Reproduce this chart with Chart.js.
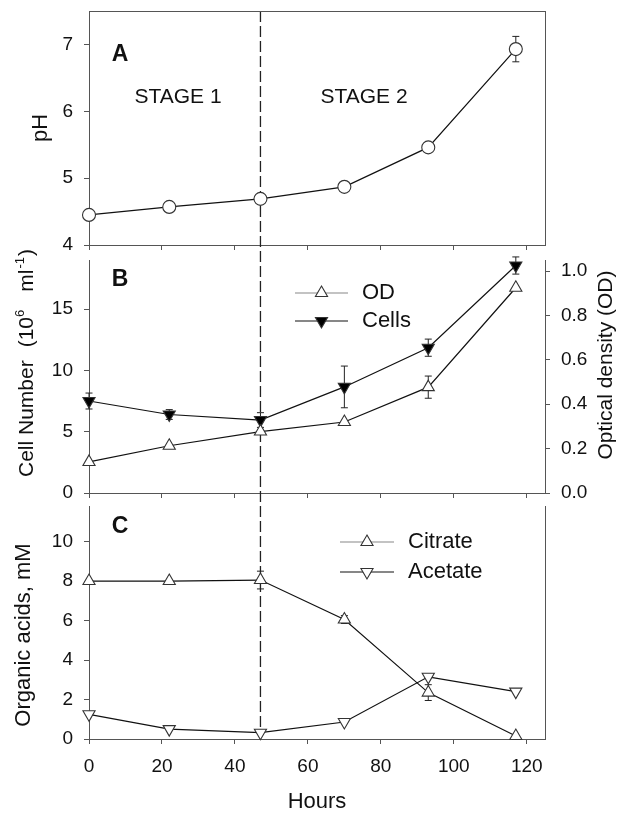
<!DOCTYPE html>
<html>
<head>
<meta charset="utf-8">
<script src="https://cdn.jsdelivr.net/npm/chart.js@4.4.1/dist/chart.umd.min.js"></script>
<style>
  body { margin: 0; background: #fff; }
  #wrap { position: relative; width: 617px; height: 813px; overflow: hidden; }
  canvas { position: absolute; left: 0; }
</style>
</head>
<body>
<div id="wrap">
  <canvas id="chartA" width="617" height="250" style="top:0px"></canvas>
  <canvas id="chartB" width="617" height="300" style="top:200px"></canvas>
  <canvas id="chartC" width="617" height="313" style="top:500px"></canvas>
</div>
<script>
// sampling times (h) and the stage boundary
const hours = [0, 22, 47, 70, 93, 117];
const stageSplit = 47;

// panel A
const pH = [4.45, 4.57, 4.69, 4.87, 5.46, 6.93];
const pHErr = [0, 0, 0, 0, 0, 0.19];

// panel B
const cells = [7.5, 6.4, 5.95, 8.65, 11.85, 18.55];
const cellsErr = [0.65, 0.4, 0.6, 1.7, 0.7, 0.7];
const od = [0.14, 0.213, 0.277, 0.32, 0.477, 0.925];
const odErr = [0, 0, 0, 0, 0.05, 0];

// panel C
const citrate = [8.0, 8.0, 8.05, 6.05, 2.35, 0.15];
const citrateErr = [0, 0, 0.45, 0.2, 0.4, 0];
const acetate = [1.25, 0.5, 0.32, 0.86, 3.15, 2.4];

// tick labels
const hourTicks = [0, 20, 40, 60, 80, 100, 120];
const pHTicks = [4, 5, 6, 7];
const cellTicks = [0, 5, 10, 15];
const odTicks = [0, 0.2, 0.4, 0.6, 0.8, 1.0];
const acidTicks = [0, 2, 4, 6, 8, 10];

const family = "'Liberation Sans', Arial, sans-serif";
const ink = '#111';
const axisColor = '#555';
Chart.defaults.font.family = family;
Chart.defaults.color = ink;

function pts(vals) {
  return hours.map((h, i) => ({ x: h, y: vals[i] }));
}

function setTicks(list) {
  return axis => { axis.ticks = list.map(v => ({ value: v })); };
}

// fixed box sizes so the three panels line up exactly
function fixBox(w, h) {
  return axis => {
    if (w !== null) axis.width = w;
    if (h !== null) axis.height = h;
    axis.paddingTop = 0;
    axis.paddingBottom = 0;
    axis.paddingLeft = 0;
    axis.paddingRight = 0;
  };
}

function xAxis(showLabels, height) {
  return {
    type: 'linear', min: 0, max: 125,
    afterBuildTicks: setTicks(hourTicks),
    afterFit: fixBox(null, height),
    grid: { display: true, drawOnChartArea: false, drawTicks: true, tickLength: 5, color: axisColor },
    border: { color: axisColor },
    ticks: { display: showLabels, font: { size: 19 }, color: ink, padding: 11, maxRotation: 0 },
    title: {
      display: showLabels, text: 'Hours', color: ink,
      font: { size: 22, lineHeight: 1 }, padding: 0
    }
  };
}

function yAxis(min, max, list, pos, fmt) {
  return {
    type: 'linear', position: pos, min: min, max: max,
    afterBuildTicks: setTicks(list),
    afterFit: fixBox(pos === 'left' ? 89 : 72, null),
    grid: { display: true, drawOnChartArea: false, drawTicks: true, tickLength: 5, color: axisColor },
    border: { color: axisColor },
    ticks: { font: { size: 19 }, color: ink, padding: 11, callback: fmt || (v => v) }
  };
}

// plain right-hand frame line for panels A and C
function frameAxis() {
  return {
    type: 'linear', position: 'right', min: 0, max: 1,
    afterFit: fixBox(72, null),
    grid: { display: false },
    border: { color: axisColor },
    ticks: { display: false }
  };
}

function series(vals, style, rot, fill, errs, yID) {
  return {
    data: pts(vals),
    yAxisID: yID || 'y',
    errors: errs,
    borderColor: ink,
    borderWidth: 1.2,
    tension: 0,
    clip: false,
    pointStyle: style,
    pointRotation: rot,
    pointRadius: style === 'circle' ? 6.5 : 7,
    pointBackgroundColor: fill,
    pointBorderColor: '#333',
    pointBorderWidth: 1.1
  };
}

const errorBars = {
  id: 'errorBars',
  beforeDatasetsDraw(chart) {
    const ctx = chart.ctx;
    const xs = chart.scales.x;
    chart.data.datasets.forEach(ds => {
      if (!ds.errors) return;
      const ys = chart.scales[ds.yAxisID];
      ctx.save();
      ctx.strokeStyle = '#222';
      ctx.lineWidth = 1;
      ds.data.forEach((p, j) => {
        const e = ds.errors[j];
        if (!e) return;
        const px = xs.getPixelForValue(p.x);
        const top = ys.getPixelForValue(p.y + e);
        const bot = ys.getPixelForValue(p.y - e);
        ctx.beginPath();
        ctx.moveTo(px, top); ctx.lineTo(px, bot);
        ctx.moveTo(px - 3.5, top); ctx.lineTo(px + 3.5, top);
        ctx.moveTo(px - 3.5, bot); ctx.lineTo(px + 3.5, bot);
        ctx.stroke();
      });
      ctx.restore();
    });
  }
};

// long-dash line at the stage boundary, kept in phase across the three canvases
function stageLine(canvasTop, fromY, toY) {
  return {
    id: 'stageLine',
    beforeDatasetsDraw(chart) {
      const ctx = chart.ctx;
      const px = chart.scales.x.getPixelForValue(stageSplit);
      ctx.save();
      ctx.strokeStyle = '#222';
      ctx.lineWidth = 1.3;
      ctx.setLineDash([11, 4]);
      ctx.lineDashOffset = fromY - 11;
      ctx.beginPath();
      ctx.moveTo(px, fromY - canvasTop);
      ctx.lineTo(px, toY - canvasTop);
      ctx.stroke();
      ctx.restore();
    }
  };
}

function text(ctx, str, x, y, size, opts) {
  opts = opts || {};
  ctx.save();
  ctx.font = (opts.bold ? 'bold ' : '') + size + 'px ' + family;
  ctx.fillStyle = ink;
  ctx.textAlign = opts.align || 'left';
  ctx.textBaseline = 'middle';
  ctx.translate(x, y);
  if (opts.vertical) ctx.rotate(-Math.PI / 2);
  ctx.fillText(str, 0, 0);
  ctx.restore();
}

function legendRow(ctx, x0, x1, y, lineColor, style, rot, fill, label) {
  ctx.save();
  ctx.strokeStyle = lineColor;
  ctx.lineWidth = 1.2;
  ctx.beginPath();
  ctx.moveTo(x0, y); ctx.lineTo(x1, y);
  ctx.stroke();
  ctx.fillStyle = fill;
  ctx.strokeStyle = '#333';
  ctx.lineWidth = 1.1;
  Chart.helpers.drawPoint(ctx, { pointStyle: style, radius: 7, rotation: rot, borderWidth: 1.1 }, (x0 + x1) / 2, y);
  ctx.restore();
  text(ctx, label, x1 + 14, y, 22);
}

const commonOpts = {
  responsive: false,
  animation: false,
  events: [],
  plugins: { legend: { display: false }, tooltip: { enabled: false } }
};

// ---------- panel A ----------
new Chart(document.getElementById('chartA').getContext('2d'), {
  type: 'line',
  data: { datasets: [series(pH, 'circle', 0, '#fff', pHErr)] },
  options: {
    ...commonOpts,
    layout: { autoPadding: false, padding: { top: 11, left: 0, right: 0, bottom: 0 } },
    scales: { x: xAxis(false, 5), y: yAxis(4, 7.5, pHTicks, 'left'), y2: frameAxis() }
  },
  plugins: [errorBars, stageLine(0, 11, 250), {
    id: 'decorA',
    afterDraw(chart) {
      const ctx = chart.ctx, a = chart.chartArea;
      ctx.save();
      ctx.strokeStyle = axisColor;
      ctx.lineWidth = 1;
      ctx.beginPath();
      ctx.moveTo(a.left, a.top + 0.5); ctx.lineTo(a.right, a.top + 0.5);
      ctx.stroke();
      ctx.restore();
      text(ctx, 'A', 120, 55, 23, { bold: true, align: 'center' });
      text(ctx, 'STAGE 1', 178, 97, 21, { align: 'center' });
      text(ctx, 'STAGE 2', 364, 97, 21, { align: 'center' });
      text(ctx, 'pH', 41, 128, 22, { vertical: true, align: 'center' });
    }
  }]
});

// ---------- panel B ----------
new Chart(document.getElementById('chartB').getContext('2d'), {
  type: 'line',
  data: {
    datasets: [
      series(od, 'triangle', 0, '#fff', odErr, 'y2'),
      series(cells, 'triangle', 180, '#000', cellsErr, 'y')
    ]
  },
  options: {
    ...commonOpts,
    layout: { autoPadding: false, padding: { top: 60, left: 0, right: 0, bottom: 0 } },
    scales: {
      x: xAxis(false, 7),
      y: yAxis(0, 19, cellTicks, 'left'),
      y2: yAxis(0, 1.05, odTicks, 'right', v => v.toFixed(1))
    }
  },
  plugins: [errorBars, stageLine(200, 250, 500), {
    id: 'decorB',
    afterDraw(chart) {
      const ctx = chart.ctx;
      const top = 200;
      text(ctx, 'B', 120, 280 - top, 23, { bold: true, align: 'center' });
      legendRow(ctx, 295, 348, 293 - top, '#888', 'triangle', 0, '#fff', 'OD');
      legendRow(ctx, 295, 348, 321 - top, '#111', 'triangle', 180, '#000', 'Cells');
      text(ctx, 'Optical density (OD)', 606, 365 - top, 21, { vertical: true, align: 'center' });
      // left title with superscripts, written bottom-to-top
      ctx.save();
      ctx.translate(27, 477 - top);
      ctx.rotate(-Math.PI / 2);
      ctx.fillStyle = ink;
      ctx.textBaseline = 'middle';
      const parts = [
        ['Cell Number', 21, 0, 0],
        ['(10', 21, 0, 13],
        ['6', 13, -7, 0],
        ['ml', 21, 0, 18],
        ['-1', 13, -7, 1],
        [')', 21, 0, 1]
      ];
      let pos = 0;
      parts.forEach(([s, size, raise, gap]) => {
        pos += gap;
        ctx.font = size + 'px ' + family;
        ctx.fillText(s, pos, raise);
        pos += ctx.measureText(s).width;
      });
      ctx.restore();
    }
  }]
});

// ---------- panel C ----------
new Chart(document.getElementById('chartC').getContext('2d'), {
  type: 'line',
  data: {
    datasets: [
      series(citrate, 'triangle', 0, '#fff', citrateErr, 'y'),
      series(acetate, 'triangle', 180, '#fff', null, 'y')
    ]
  },
  options: {
    ...commonOpts,
    layout: { autoPadding: false, padding: { top: 6, left: 0, right: 0, bottom: 0 } },
    scales: { x: xAxis(true, 74), y: yAxis(0, 11.8, acidTicks, 'left'), y2: frameAxis() }
  },
  plugins: [errorBars, stageLine(500, 500, 739), {
    id: 'decorC',
    afterDraw(chart) {
      const ctx = chart.ctx;
      const top = 500;
      text(ctx, 'C', 120, 527 - top, 23, { bold: true, align: 'center' });
      legendRow(ctx, 340, 394, 542 - top, '#888', 'triangle', 0, '#fff', 'Citrate');
      legendRow(ctx, 340, 394, 572 - top, '#111', 'triangle', 180, '#fff', 'Acetate');
      text(ctx, 'Organic acids, mM', 24, 635 - top, 22, { vertical: true, align: 'center' });
    }
  }]
});
</script>
</body>
</html>
